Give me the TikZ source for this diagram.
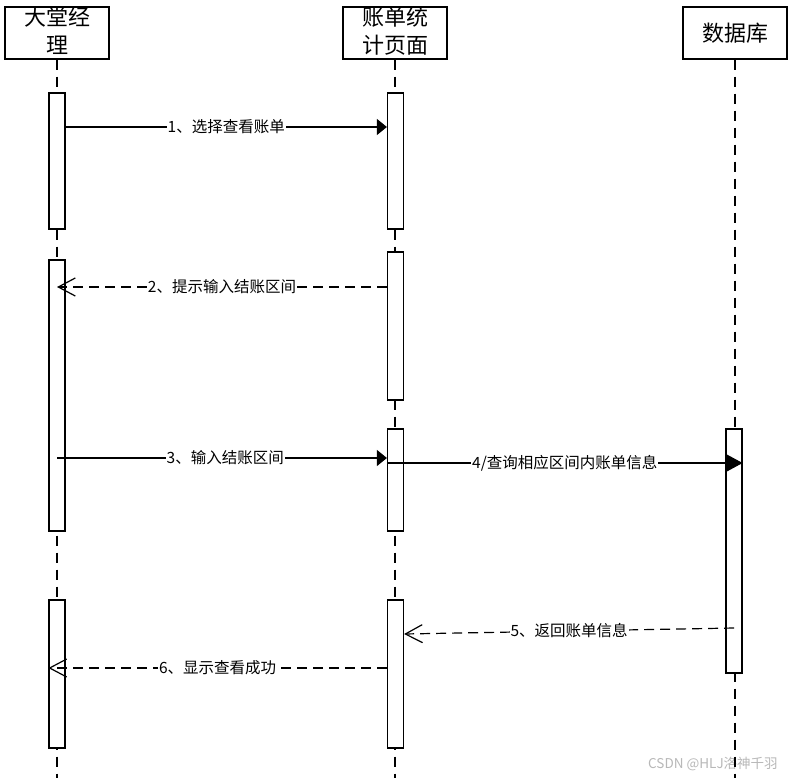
\documentclass[tikz,border=0pt]{standalone}
\usepackage{fontspec}
\setmainfont{Noto Sans CJK SC}
\usetikzlibrary{arrows.meta}
\begin{document}
\begin{tikzpicture}[x=1pt,y=-1pt,
  head/.style={draw, line width=1.2pt, minimum width=104pt, minimum height=52pt, inner sep=0pt},
  headtext/.style={font=\fontsize{22}{28}\selectfont, align=center, inner sep=0pt},
  lifeline/.style={line width=1.2pt, dash pattern=on 10pt off 7pt},
  bar/.style={draw, fill=white, line width=1.2pt, minimum width=16pt, inner sep=0pt},
  msg/.style={line width=1.2pt},
  sync/.style={msg, -{Triangle[length=10pt,width=16pt]}},
  syncb/.style={msg, -{Triangle[length=16pt,width=17pt]}},
  ret/.style={msg, dash pattern=on 10pt off 6pt, -{Straight Barb[length=17pt,width=18pt,line width=1.2pt]}},
  lbl/.style={fill=white, inner sep=1pt, font=\fontsize{15.5}{16}\selectfont},
  wmark/.style={font=\fontsize{13.5}{14}\selectfont, text=black!28, anchor=west, inner sep=0pt}
]
\useasboundingbox (0,0) rectangle (791,778);
\fill[white] (0,0) rectangle (791,778);

% watermark
\node[wmark] (wm) at (648,764) {CSDN @HLJ洛神千羽};

% heads
\node[head] (h1) at (57,33) {};
\node[head] (h2) at (395,33) {};
\node[head] (h3) at (735,33) {};
\node[headtext] (t1) at (57,31) {大堂经\\理};
\node[headtext] (t2) at (395,31) {账单统\\计页面};
\node[headtext] (t3) at (735,33) {数据库};

% lifeline ends
\coordinate (e1) at (57,778);
\coordinate (e2) at (395,778);
\coordinate (e3) at (735,778);
\draw[lifeline] (h1.south) -- (e1);
\draw[lifeline] (h2.south) -- (e2);
\draw[lifeline] (h3.south) -- (e3);

% activation bars
\node[bar, minimum height=136pt] (A1) at (57,161) {};
\node[bar, minimum height=271pt] (A2) at (57,395.5) {};
\node[bar, minimum height=148pt] (A3) at (57,674) {};
\node[bar, minimum height=136pt] (B1) at (395.5,161) {};
\node[bar, minimum height=148pt] (B2) at (395.5,326) {};
\node[bar, minimum height=102pt] (B3) at (395.5,480) {};
\node[bar, minimum height=148pt] (B4) at (395.5,674) {};
\node[bar, minimum height=244pt] (C1) at (734,551) {};

% message levels
\coordinate (y1) at (0,127);
\coordinate (y2) at (0,287);
\coordinate (y3) at (0,458);
\coordinate (y4) at (0,463);
\coordinate (y5a) at (0,628);
\coordinate (y5b) at (0,634);
\coordinate (y6) at (0,668);

% messages
\draw[sync] (A1.east |- y1) -- node[lbl]{1、选择查看账单} (B1.west |- y1);
\draw[ret] (B2.west |- y2) -- node[lbl]{2、提示输入结账区间} (A2.center |- y2);
\draw[sync] (A2.center |- y3) -- node[lbl, pos=0.51]{3、输入结账区间} (B3.west |- y3);
\draw[syncb] (B3.west |- y4) -- node[lbl]{4/查询相应区间内账单信息} (C1.east |- y4);
\draw[ret] (C1.center |- y5a) -- node[lbl]{5、返回账单信息} (B4.east |- y5b);
\draw[ret] (B4.west |- y6) -- node[lbl]{6、显示查看成功} (A3.west |- y6);
\end{tikzpicture}
\end{document}
